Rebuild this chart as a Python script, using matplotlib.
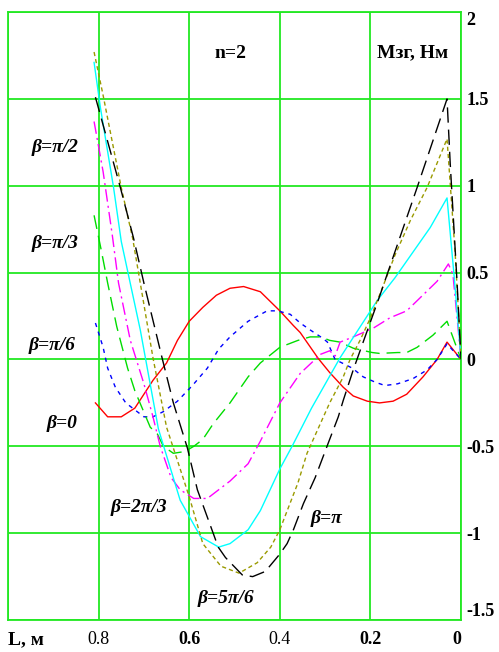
import matplotlib
matplotlib.use('Agg')
import matplotlib.pyplot as plt

plt.rcParams['font.family'] = ['Liberation Serif', 'DejaVu Serif']
plt.rcParams['axes.unicode_minus'] = False

# beta = 0
L_b0 = [0.807, 0.78, 0.75, 0.72, 0.70, 0.68, 0.65, 0.626, 0.60, 0.57, 0.54, 0.51, 0.48,
        0.443, 0.40, 0.37, 0.355, 0.315, 0.29, 0.26, 0.238, 0.207, 0.18, 0.15, 0.12,
        0.084, 0.053, 0.031, 0.0]
M_b0 = [-0.25, -0.33, -0.33, -0.28, -0.20, -0.12, -0.02, 0.11, 0.22, 0.30, 0.37, 0.41, 0.42,
        0.39, 0.28, 0.195, 0.155, 0.005, -0.075, -0.16, -0.21, -0.24, -0.25, -0.24, -0.20,
        -0.10, 0.0, 0.10, 0.0]

# beta = pi/6
L_b1 = [0.807, 0.79, 0.78, 0.763, 0.74, 0.70, 0.68, 0.657, 0.626, 0.593, 0.56, 0.535, 0.51,
        0.47, 0.428, 0.405, 0.377, 0.355, 0.333, 0.304, 0.295, 0.278, 0.24, 0.216, 0.19,
        0.168, 0.14, 0.106, 0.075, 0.053, 0.031, 0.0]
M_b1 = [0.21, 0.07, -0.05, -0.16, -0.25, -0.33, -0.33, -0.30, -0.24, -0.15, -0.05, 0.06, 0.13,
        0.22, 0.28, 0.28, 0.26, 0.21, 0.17, 0.12, 0.10, 0.0, -0.05, -0.10, -0.13,
        -0.15, -0.14, -0.11, -0.06, 0.0, 0.09, 0.0]

# beta = pi/3
L_b2 = [0.81, 0.795, 0.78, 0.76, 0.736, 0.72, 0.686, 0.67, 0.657, 0.635, 0.61, 0.59, 0.57,
        0.547, 0.51, 0.47, 0.443, 0.40, 0.36, 0.333, 0.31, 0.29, 0.267, 0.238, 0.196,
        0.18, 0.14, 0.12, 0.097, 0.062, 0.031, 0.0]
M_b2 = [0.83, 0.64, 0.44, 0.19, -0.05, -0.18, -0.39, -0.43, -0.50, -0.54, -0.53, -0.50, -0.46,
        -0.37, -0.25, -0.10, -0.02, 0.07, 0.11, 0.13, 0.13, 0.11, 0.10, 0.065, 0.04,
        0.035, 0.04, 0.04, 0.07, 0.14, 0.22, 0.0]

# beta = pi/2
L_b3 = [0.81, 0.79, 0.77, 0.756, 0.73, 0.70, 0.68, 0.664, 0.64, 0.62, 0.59, 0.56, 0.51,
        0.47, 0.443, 0.40, 0.355, 0.31, 0.29, 0.278, 0.267, 0.238, 0.194, 0.157, 0.12,
        0.053, 0.028, 0.018, 0.0]
M_b3 = [1.37, 1.08, 0.72, 0.44, 0.11, -0.14, -0.33, -0.50, -0.68, -0.75, -0.80, -0.80, -0.70,
        -0.60, -0.47, -0.25, -0.08, 0.03, 0.05, 0.02, 0.10, 0.13, 0.18, 0.24, 0.28,
        0.45, 0.55, 0.49, 0.0]

# beta = 2pi/3
L_b4 = [0.81, 0.796, 0.767, 0.75, 0.708, 0.668, 0.62, 0.575, 0.535, 0.51, 0.47, 0.443, 0.40,
        0.373, 0.33, 0.267, 0.185, 0.146, 0.068, 0.031, 0.015, 0.0]
M_b4 = [1.71, 1.45, 0.99, 0.68, 0.17, -0.40, -0.81, -1.02, -1.08, -1.06, -0.98, -0.87, -0.63,
        -0.50, -0.28, 0.01, 0.34, 0.47, 0.76, 0.93, 0.47, 0.0]

# beta = 5pi/6
L_b5 = [0.81, 0.79, 0.75, 0.725, 0.68, 0.65, 0.60, 0.57, 0.53, 0.49, 0.45, 0.42, 0.40,
        0.36, 0.34, 0.29, 0.26, 0.245, 0.223, 0.20, 0.174, 0.146, 0.112, 0.075, 0.031,
        0.013, 0.0]
M_b5 = [1.77, 1.52, 0.99, 0.70, 0.01, -0.39, -0.79, -1.06, -1.19, -1.23, -1.17, -1.08, -0.98,
        -0.71, -0.54, -0.25, -0.10, 0.0, 0.11, 0.24, 0.41, 0.60, 0.80, 0.99, 1.27,
        0.61, 0.0]

# beta = pi
L_b6 = [0.807, 0.752, 0.723, 0.70, 0.66, 0.635, 0.604, 0.582, 0.536, 0.52, 0.483, 0.46, 0.432,
        0.40, 0.384, 0.37, 0.348, 0.322, 0.293, 0.271, 0.26, 0.238, 0.212, 0.183, 0.097,
        0.031, 0.024, 0.009, 0.0]
M_b6 = [1.51, 0.99, 0.70, 0.44, 0.01, -0.25, -0.51, -0.75, -1.08, -1.14, -1.24, -1.25, -1.22,
        -1.12, -1.06, -0.98, -0.83, -0.68, -0.48, -0.33, -0.235, -0.06, 0.13, 0.34, 0.99,
        1.50, 1.13, 0.45, 0.0]

x_ticks = [1.0, 0.8, 0.6, 0.4, 0.2, 0.0]
x_labels = ['', '0.8', '0.6', '0.4', '0.2', '0']
x_bold = [False, False, True, False, True, True]
y_ticks = [-1.5, -1.0, -0.5, 0.0, 0.5, 1.0, 1.5, 2.0]
y_labels = ['-1.5', '-1', '-0.5', '0', '0.5', '1', '1.5', '2']

beta_labels = ['β=π/2', 'β=π/3', 'β=π/6', 'β=0', 'β=2π/3', 'β=5π/6', 'β=π']
beta_pos = [(0.897, 1.22), (0.897, 0.667), (0.902, 0.08), (0.88, -0.368),
            (0.712, -0.851), (0.52, -1.374), (0.298, -0.914)]

grid_c = '#22e822'

fig = plt.figure(figsize=(4.99, 6.52), dpi=100)
ax = fig.add_axes([0.016, 0.049, 0.908, 0.9325])

curves = [
    (L_b0, M_b0, '#ff0000', None),
    (L_b1, M_b1, '#0000ff', (3, 3.5)),
    (L_b2, M_b2, '#00dd00', (10, 5)),
    (L_b3, M_b3, '#ff00ff', (9, 3, 1.5, 3)),
    (L_b4, M_b4, '#00ffff', None),
    (L_b5, M_b5, '#9a9a00', (3, 2.2)),
    (L_b6, M_b6, '#000000', (11, 5)),
]
for L, M, c, d in curves:
    if d is None:
        ax.plot(L, M, color=c, lw=1.0, zorder=3)
    else:
        ax.plot(L, M, color=c, lw=1.0, dashes=d, zorder=3)

ax.set_xlim(1.0, 0.0)
ax.set_ylim(-1.5, 2.0)
ax.set_axisbelow(True)
ax.grid(True, color=grid_c, lw=1.3)
for s in ax.spines.values():
    s.set_color(grid_c)
    s.set_linewidth(1.3)

ax.set_xticks(x_ticks)
ax.set_xticklabels(x_labels, fontsize=13)
for lab, b in zip(ax.get_xticklabels(), x_bold):
    lab.set_fontweight('bold' if b else 'normal')
ax.get_xticklabels()[-1].set_ha('right')
ax.tick_params(axis='x', length=0, pad=8)

ax.yaxis.tick_right()
ax.set_yticks(y_ticks)
ax.set_yticklabels(y_labels, fontsize=13, fontweight='bold')
ax.tick_params(axis='y', length=0, pad=4)
ax.get_yticklabels()[-1].set_va('top')
ax.get_yticklabels()[0].set_va('bottom')

for txt, (x, y) in zip(beta_labels, beta_pos):
    ax.text(x, y, txt, fontsize=14, fontweight='bold', fontstyle='italic',
            ha='center', va='center')

ax.text(0.509, 1.76, 'n=2', fontsize=14, fontweight='bold', ha='center', va='center')
ax.text(0.106, 1.764, 'Mзг, Нм', fontsize=14, fontweight='bold', ha='center', va='center')
fig.text(8 / 499, 1 - 640 / 652, 'L, м', fontsize=14, fontweight='bold',
         ha='left', va='center')

fig.savefig('out.png', dpi=100)
